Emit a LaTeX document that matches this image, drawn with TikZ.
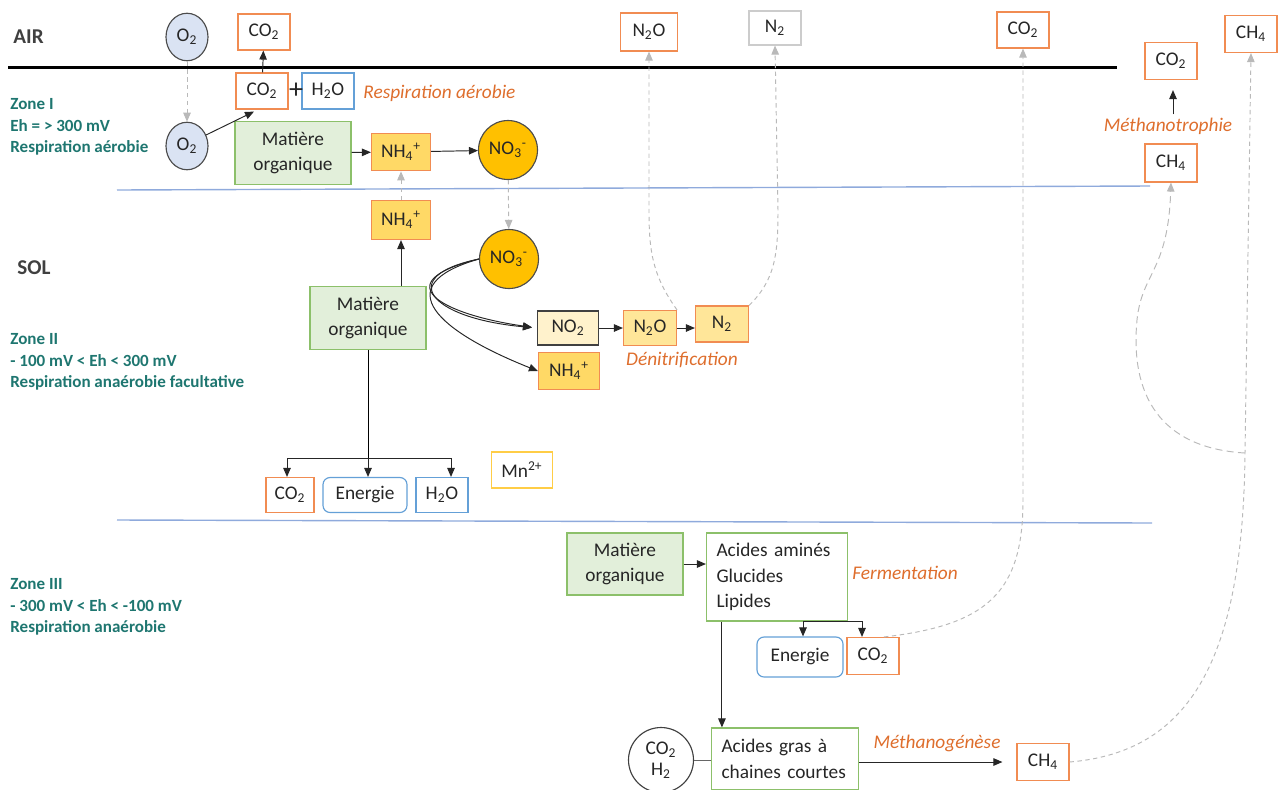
\documentclass[tikz,border=0pt]{standalone}
\usepackage{fontspec}
\setmainfont{Carlito}
\usetikzlibrary{arrows.meta,shapes.geometric}
\definecolor{boxorange}{RGB}{241,140,82}
\definecolor{boxblue}{RGB}{100,160,215}
\definecolor{mogreen}{RGB}{140,192,106}
\definecolor{mofill}{RGB}{226,239,218}
\definecolor{ionfill}{RGB}{255,217,102}
\definecolor{nitratefill}{RGB}{255,192,0}
\definecolor{n2fill}{RGB}{255,230,153}
\definecolor{no2fill}{RGB}{255,242,204}
\definecolor{gasfill}{RGB}{218,227,243}
\definecolor{zoneteal}{RGB}{30,118,112}
\definecolor{procorange}{RGB}{222,110,45}
\definecolor{dashgray}{RGB}{185,185,185}
\definecolor{soilline}{RGB}{143,170,220}
\definecolor{mngold}{RGB}{255,205,70}

\begin{document}
\begin{tikzpicture}[x=0.02cm, y=-0.02cm,
    font=\fontsize{11}{14.5}\selectfont, text=black!85,
    box/.style={draw, rectangle, line width=0.65pt, inner sep=0pt, fill=white, minimum width=1.04cm, minimum height=0.72cm},
    orangebox/.style={box, draw=boxorange},
    bluebox/.style={box, draw=boxblue},
    energybox/.style={box, draw=boxblue, rounded corners=4pt, minimum width=1.7cm},
    ionbox/.style={box, draw=boxorange, fill=ionfill, minimum width=1.18cm, minimum height=0.75cm},
    n2box/.style={box, draw=boxorange, fill=n2fill, minimum width=1.06cm},
    mobox/.style={box, draw=mogreen, fill=mofill, minimum width=2.32cm, minimum height=1.26cm, align=center},
    gas/.style={ellipse, draw=black!70, line width=0.65pt, fill=gasfill, inner sep=0pt, minimum width=0.84cm, minimum height=0.95cm},
    nitratenode/.style={circle, draw=black!70, line width=0.65pt, fill=nitratefill, inner sep=0pt, minimum size=1.18cm},
    proc/.style={font=\fontsize{11}{14}\selectfont\itshape, text=procorange},
    zonetext/.style={anchor=west, align=left, inner xsep=0pt, font=\fontsize{9.7}{12.2}\selectfont\bfseries, text=zoneteal},
    layer/.style={anchor=west, inner xsep=0pt, font=\fontsize{12}{14}\selectfont\bfseries, text=black!75},
    flow/.style={-{Triangle[length=0.18cm,width=0.15cm]}, draw=black!85, line width=0.55pt},
    gasflow/.style={-{Triangle[length=0.18cm,width=0.15cm]}, draw=dashgray, line width=0.55pt, dash pattern=on 2.5pt off 2pt},
    zoneline/.style={draw=soilline, line width=0.8pt}
  ]
  \useasboundingbox (0,0) rectangle (1286,789);

  % layers
  \draw[line width=1.7pt] (8,67) -- (1117,67);
  \draw[zoneline] (117,190) -- (1150,186);
  \draw[zoneline] (117,520) -- (1152,523);
  \node[layer] (air) at (13,37) {AIR};
  \node[layer] (sol) at (17,268) {SOL};
  \node[zonetext] (zone1) at (10,127) {Zone I\\Eh = > 300 mV\\Respiration aérobie};
  \node[zonetext] (zone2) at (10,362) {Zone II\\- 100 mV < Eh < 300 mV\\Respiration anaérobie facultative};
  \node[zonetext] (zone3) at (10,607) {Zone III\\- 300 mV < Eh < -100 mV\\Respiration anaérobie};

  % zone I
  \node[gas] (o2air) at (187,37) {O\textsubscript{2}};
  \node[orangebox] (co2air) at (264,32) {CO\textsubscript{2}};
  \node[box, draw=boxorange] (co2resp) at (262,91) {CO\textsubscript{2}};
  \node[bluebox] (h2oresp) at (328,91) {H\textsubscript{2}O};
  \node[font=\fontsize{16}{16}\selectfont, inner sep=0pt] (plus) at (296,91) {+};
  \node[proc, anchor=west, inner xsep=0pt] (lblresp) at (363,93) {Respiration aérobie};
  \node[gas] (o2soil) at (187,146) {O\textsubscript{2}};
  \node[mobox] (mo1) at (293,153) {Matière\\organique};
  \node[ionbox] (nh4a) at (401,152) {NH\textsubscript{4}\textsuperscript{+}};
  \node[nitratenode] (no3a) at (508,150) {NO\textsubscript{3}\textsuperscript{-}};

  \draw[gasflow] (o2air) -- (o2soil);
  \draw[flow] (o2soil.30) -- ([xshift=-0.16cm,yshift=-0.04cm]co2resp.south);
  \draw[flow] (co2resp) -- (co2air);
  \draw[flow] (mo1) -- (nh4a);
  \draw[flow] (nh4a) -- (no3a);

  % zone II
  \node[ionbox, minimum height=0.78cm] (nh4b) at (401,220) {NH\textsubscript{4}\textsuperscript{+}};
  \node[nitratenode] (no3b) at (509,259) {NO\textsubscript{3}\textsuperscript{-}};
  \node[mobox] (mo2) at (368,318) {Matière\\organique};
  \node[box, draw=black!75, fill=no2fill, minimum width=1.22cm, minimum height=0.68cm] (no2) at (568,328) {NO\textsubscript{2}};
  \node[n2box, minimum height=0.7cm] (n2oa) at (650,328) {N\textsubscript{2}O};
  \node[n2box] (n2a) at (722,324) {N\textsubscript{2}};
  \node[ionbox, minimum width=1.22cm] (nh4c) at (569,371) {NH\textsubscript{4}\textsuperscript{+}};
  \node[proc] (lbldenit) at (682,360) {Dénitrification};
  \node[orangebox, minimum width=1.14cm, minimum height=0.76cm] (n2oair) at (649,32) {N\textsubscript{2}O};
  \node[box, draw=black!20, minimum height=0.68cm] (n2air) at (775,28) {N\textsubscript{2}};

  \draw[gasflow] (nh4b) -- (nh4a);
  \draw[gasflow] (no3a) -- (no3b);
  \draw[flow] (mo2.north -| nh4b) -- (nh4b.south);
  \draw[flow, shorten >=0.1cm] (no3b.west) .. controls (385,282) and (440,314) .. (no2.west);
  \draw[flow, shorten >=0.1cm] (no3b.west) .. controls (396,276) and (428,318) .. (no2.west);
  \draw[flow] (no3b.west) .. controls (385,286) and (440,332) .. (nh4c.west);
  \draw[flow] (no2) -- (n2oa);
  \draw[flow] (n2oa) -- (n2a.west |- n2oa);
  \draw[gasflow] (n2oa.north east) .. controls (652,275) and (649,250) .. (649,210) -- (n2oair.south);
  \draw[gasflow] (n2a.north east) .. controls (775,280) and (778,255) .. (778,210) -- (n2air.south);

  \node[orangebox, minimum width=0.96cm, minimum height=0.7cm] (co2b) at (290,495) {CO\textsubscript{2}};
  \node[energybox, minimum width=1.68cm, minimum height=0.7cm] (energieb) at (365,495) {Energie};
  \node[bluebox, minimum height=0.7cm] (h2ob) at (442,495) {H\textsubscript{2}O};
  \node[box, draw=mngold, minimum width=1.22cm] (mn) at (522,470) {Mn\textsuperscript{2+}};
  \coordinate (split2) at (368,458);
  \draw[line width=0.55pt] (mo2.south -| split2) -- (split2);
  \draw[flow] (split2) -- (energieb.north -| split2);
  \draw[flow] (split2) -| ([xshift=-0.06cm]co2b.north);
  \draw[flow] (split2) -| ([xshift=0.18cm]h2ob.north);

  % zone III
  \node[mobox, minimum height=1.24cm] (mo3) at (625,564) {Matière\\organique};
  \node[box, draw=mogreen, align=left, text width=2.42cm, inner xsep=0.2cm, minimum height=1.76cm] (acides) at (777,577) {Acides aminés\\Glucides\\Lipides};
  \node[proc, anchor=west, inner xsep=0pt] (lblferm) at (852,573) {Fermentation};
  \node[energybox, minimum width=1.72cm, minimum height=0.8cm] (energiec) at (800,657) {Energie};
  \node[orangebox, minimum height=0.74cm] (co2c) at (873,656) {CO\textsubscript{2}};
  \node[box, draw=mogreen, align=left, text width=2.54cm, inner xsep=0.2cm, minimum height=1.24cm] (acgras) at (785,759) {Acides gras à\\chaines courtes};
  \node[circle, draw=black!75, line width=0.65pt, fill=white, inner sep=0pt, minimum size=1.3cm, align=center, font=\fontsize{11}{12}\selectfont] (co2h2) at (661,760) {CO\textsubscript{2}\\H\textsubscript{2}};
  \node[proc] (lblmethano) at (937,743) {Méthanogénèse};
  \node[orangebox, minimum height=0.74cm] (ch4c) at (1043,762) {CH\textsubscript{4}};
  \node[orangebox] (co2airb) at (1023,30) {CO\textsubscript{2}};

  \draw[flow] (mo3) -- (acides.west |- mo3);
  \draw[flow] ([xshift=-0.3cm]acides.south east) -| ([xshift=0.06cm]energiec.north);
  \draw[flow] ([xshift=-0.3cm]acides.south east) -| ([xshift=-0.22cm]co2c.north);
  \draw[flow] ([xshift=0.32cm]acides.south west) -- ([xshift=0.32cm]acides.south west |- acgras.north);
  \draw[black!60, line width=0.55pt] (co2h2.east) -- (acgras.west |- co2h2);
  \draw[flow, shorten >=0.28cm] (acgras.east |- ch4c) -- (ch4c.west);
  \draw[gasflow] (co2c.60) .. controls (990,625) and (1023,590) .. (1023,500) -- (co2airb.south);

  % methane
  \node[orangebox, minimum height=0.74cm] (co2meth) at (1171,61) {CO\textsubscript{2}};
  \node[proc] (lblmeth) at (1168,126) {Méthanotrophie};
  \node[orangebox, minimum height=0.76cm] (ch4meth) at (1171,163) {CH\textsubscript{4}};
  \node[orangebox, minimum height=0.74cm] (ch4air) at (1251,34) {CH\textsubscript{4}};
  \coordinate (ch4fork) at (1245,453);

  \draw[flow, shorten <=0.58cm, shorten >=0.2cm] ([xshift=0.04cm]ch4meth.north) -- ([xshift=0.04cm]co2meth.south);
  \draw[gasflow] (ch4c.east) .. controls (1190,752) and (1243,660) .. (ch4fork) -- (ch4air.south);
  \draw[gasflow, dash pattern=on 4pt off 2.5pt] (ch4fork) .. controls (1160,448) and (1130,395) .. (1137,320) .. controls (1142,272) and (1168,272) .. (ch4meth.south);
\end{tikzpicture}
\end{document}
